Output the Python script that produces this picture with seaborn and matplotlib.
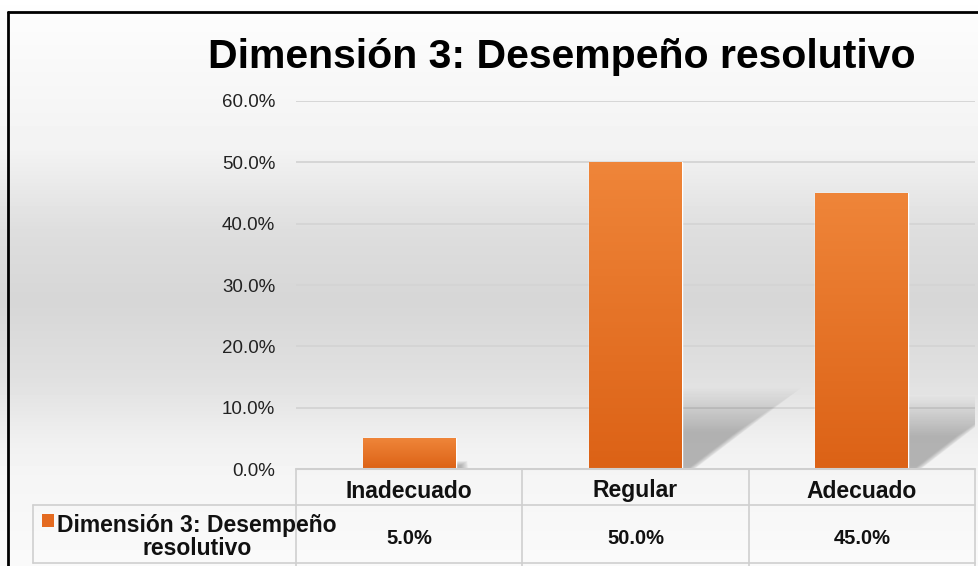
import numpy as np
import pandas as pd
import matplotlib
matplotlib.use("Agg")
import matplotlib.pyplot as plt
import matplotlib.transforms as mtransforms
from matplotlib.patches import Polygon, Rectangle
from matplotlib.colors import LinearSegmentedColormap
import seaborn as sns

# Data
categorias = ["Inadecuado", "Regular", "Adecuado"]
porcentajes = [5.0, 50.0, 45.0]
serie = "Dimensión 3: Desempeño\nresolutivo"
titulo = "Dimensión 3: Desempeño resolutivo"
ticks_y = [0, 10, 20, 30, 40, 50, 60]

df = pd.DataFrame({"Categoria": categorias, "Porcentaje": porcentajes})

sns.set_theme(style="white")
plt.rcParams["font.family"] = ["Liberation Sans", "DejaVu Sans"]

W, H = 979, 566
fig = plt.figure(figsize=(W / 100, H / 100), dpi=100)


def fx(px):
    return px / W


def fy(py):
    return 1 - py / H


# -----------------------------
# Background gradient
# -----------------------------
bg = fig.add_axes([0, 0, 1, 1], zorder=-10)
rows = np.arange(H)
g = np.interp(rows, [0, 12, 150, 230, 300, 380, 440, 470, 566],
              [1.0, 0.99, 0.95, 0.87, 0.84, 0.88, 0.94, 0.96, 0.98])
bg.imshow(g[:, None], cmap="gray", vmin=0, vmax=1, aspect="auto",
          extent=[0, 1, 0, 1], origin="upper")
bg.set_axis_off()

# -----------------------------
# Bars
# -----------------------------
ax = fig.add_axes([fx(296), fy(469), fx(975) - fx(296), fy(101) - fy(469)])
ax.set_facecolor("none")

sns.barplot(data=df, x="Categoria", y="Porcentaje", color="#E6702A",
            saturation=1, width=0.41, ax=ax, zorder=3)

cmap_bar = LinearSegmentedColormap.from_list("bar", ["#DC6216", "#EF8539"])
for p in ax.patches:
    x0, w, h = p.get_x(), p.get_width(), p.get_height()
    grad = np.linspace(1, 0, 100)[:, None]
    im = ax.imshow(grad, cmap=cmap_bar, vmin=0, vmax=1, aspect="auto",
                   extent=[x0, x0 + w, 0, h], origin="upper", zorder=4)
    im.set_clip_path(p)
    # soft shadow behind the bar (nested translucent layers)
    sh = min(0.23 * h, 11.8)
    ln = 0.47 * sh / 11.8
    xr = x0 + w
    for k in range(30):
        s = 1.15 - k * 0.022
        poly = Polygon([(xr, 0), (xr, sh * s), (xr + ln * s, sh * s),
                        (xr + 0.05 * s, 0)], closed=True,
                       facecolor="#808080", edgecolor="none", alpha=0.018,
                       zorder=1)
        ax.add_patch(poly)

ax.set_xlim(-0.5, 2.5)
ax.set_ylim(0, 60)
ax.set_yticks(ticks_y)
ax.set_yticklabels([f"{t:.1f}%" for t in ticks_y], fontsize=13.5,
                   color="#222222")
ax.tick_params(axis="y", length=0, pad=15)
ax.set_xticks([])
ax.set_xlabel("")
ax.set_ylabel("")
ax.yaxis.grid(True, color="#d4d4d4", linewidth=1.3, zorder=2)
ax.set_axisbelow(True)
for s in ax.spines.values():
    s.set_visible(False)

# -----------------------------
# Data table under the chart
# -----------------------------
tr = mtransforms.blended_transform_factory(ax.transData, fig.transFigure)
lc = "#cfcfcf"
edges = np.arange(len(categorias) + 1) - 0.5
for e in edges:
    ax.plot([e, e], [fy(469), fy(566)], transform=tr, color=lc, lw=1.2,
            clip_on=False, zorder=5)
ax.plot([edges[0], edges[-1]], [fy(469), fy(469)], transform=tr, color=lc,
        lw=1.5, clip_on=False, zorder=5)
fig.lines.append(plt.Line2D([fx(33), fx(975)], [fy(505), fy(505)],
                            transform=fig.transFigure, color=lc, lw=1.2))
fig.lines.append(plt.Line2D([fx(33), fx(975)], [fy(563), fy(563)],
                            transform=fig.transFigure, color=lc, lw=1.2))
fig.lines.append(plt.Line2D([fx(33), fx(33)], [fy(505), fy(563)],
                            transform=fig.transFigure, color=lc, lw=1.2))

for i, (c, v) in enumerate(zip(categorias, porcentajes)):
    ax.text(i, fy(491), c, transform=tr, ha="center", va="center",
            fontsize=16.5, fontweight="bold", color="#111111")
    ax.text(i, fy(538), f"{v:.1f}%", transform=tr, ha="center", va="center",
            fontsize=14.5, fontweight="bold", color="#111111")

# legend cell
fig.patches.append(Rectangle((fx(42), fy(527)), fx(12), fy(514) - fy(527),
                             transform=fig.transFigure, facecolor="#E46A20",
                             edgecolor="none"))
fig.text(fx(197), fy(537), serie, ha="center", va="center", fontsize=16.5,
         fontweight="bold", color="#111111", linespacing=1.05)

# title
fig.text(fx(562), fy(57), titulo, ha="center", va="center", fontsize=29.5,
         fontweight="bold", color="#000000")

# outer frame
fig.lines.append(plt.Line2D([fx(8), fx(8)], [fy(566), fy(12)],
                            transform=fig.transFigure, color="black", lw=2))
fig.lines.append(plt.Line2D([fx(8), fx(979)], [fy(12), fy(12)],
                            transform=fig.transFigure, color="black", lw=2))

plt.savefig("out.png", dpi=100)
